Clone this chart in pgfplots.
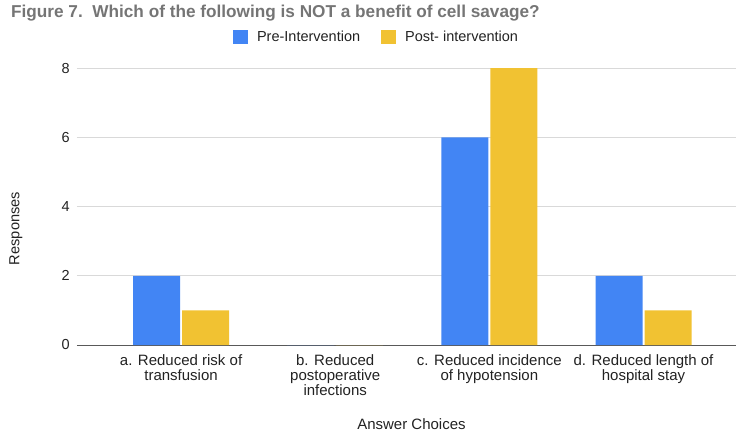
\documentclass[border=0pt]{standalone}
\usepackage{pgfplots}
\pgfplotsset{compat=1.18}
\usepackage{fontspec}
\setmainfont{Liberation Sans}
\definecolor{preblue}{HTML}{4285F4}
\definecolor{postyel}{HTML}{F1C232}
\definecolor{titlegray}{HTML}{757575}
\definecolor{gridgray}{HTML}{D9D9D9}
\definecolor{txt}{HTML}{222222}
\newcommand{\tl}[2]{\begin{tabular}[t]{@{}c@{}}#1\\#2\end{tabular}}
\newcommand{\tlc}[3]{\begin{tabular}[t]{@{}c@{}}#1\\#2\\#3\end{tabular}}
\begin{document}
\begin{tikzpicture}
\path[use as bounding box] (-77pt,-87pt) rectangle (660pt,345pt);
\begin{axis}[
  at={(0pt,0pt)}, anchor=south west,
  scale only axis, width=659pt, height=277pt,
  xmin=-0.675, xmax=3.6, ymin=0, ymax=8,
  ybar=2pt, bar width=47pt,
  xtick={0,1,2,3},
  xticklabels={{\tl{a. Reduced risk of}{transfusion}},{\tlc{b. Reduced}{postoperative}{infections}},{\tl{c. Reduced incidence}{of hypotension}},{\tl{d. Reduced length of}{hospital stay}}},
  xticklabel style={font=\fontsize{15}{14.5}\selectfont, color=txt, anchor=base, inner sep=0pt, yshift=-20pt},
  ytick={0,2,4,6,8}, yticklabels={0,2,4,6,8},
  yticklabel style={font=\fontsize{14.5}{14.5}\selectfont, color=txt, anchor=east, inner sep=0pt, xshift=-7pt},
  major tick length=0pt,
  axis line style={draw=none},
  ymajorgrids, grid style={gridgray, line width=0.8pt},
  extra y ticks={0}, extra y tick labels={},
  extra y tick style={grid style={color=black!65, line width=1pt}},
  title={\fontsize{17.2}{17.2}\selectfont\bfseries Figure 7.\ \ Which of the following is NOT a benefit of cell savage?},
  title style={at={(axis description cs:-0.1002,1.159)}, anchor=base west, color=titlegray, inner sep=0pt},
  xlabel={Answer Choices},
  xlabel style={at={(axis description cs:0.5076,-0.306)}, anchor=base, inner sep=0pt, font=\fontsize{15}{15}\selectfont, color=txt},
  ylabel={Responses},
  ylabel style={at={(axis description cs:-0.0926,0.4206)}, anchor=center, font=\fontsize{14.6}{14.6}\selectfont, color=txt},
  legend columns=2,
  legend style={at={(axis description cs:0.453,1.112)}, anchor=center, draw=none, fill=none,
    font=\fontsize{14.5}{14.5}\selectfont, text=txt, inner sep=0pt,
    nodes={inner sep=0pt},
    /tikz/every odd column/.append style={column sep=9pt},
    /tikz/every even column/.append style={column sep=21pt}},
  legend image code/.code={\fill[#1] (0pt,-7pt) rectangle (15pt,7pt);},
]
\addplot[fill=preblue, draw=none] coordinates {(0,2) (1,0) (2,6) (3,2)};
\addlegendentry{Pre-Intervention}
\addplot[fill=postyel, draw=none] coordinates {(0,1) (1,0) (2,8) (3,1)};
\addlegendentry{Post- intervention}
\end{axis}
\end{tikzpicture}
\end{document}
